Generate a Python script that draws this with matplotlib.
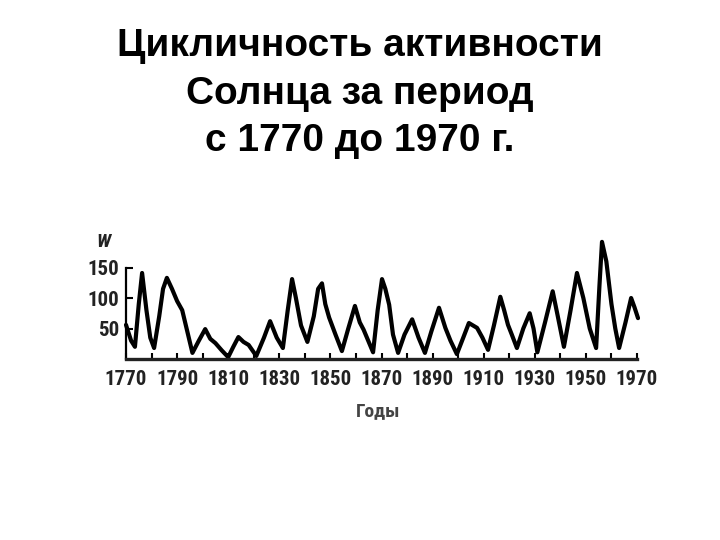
import matplotlib
matplotlib.use("Agg")
import matplotlib.pyplot as plt
from matplotlib import font_manager
from matplotlib.ticker import FixedLocator

title_lines = ["Цикличность активности", "Солнца за период", "с 1770 до 1970 г."]

years = [1770, 1772, 1773.5, 1775, 1776.3, 1778, 1779.5, 1781, 1783, 1784.5, 1786, 1788, 1790,
         1792, 1794, 1796, 1798.5, 1801, 1803, 1805, 1807.5, 1810, 1812, 1814, 1816, 1818,
         1821, 1824, 1826.4, 1829, 1831.4, 1833.3, 1835, 1836.5, 1838.5, 1841, 1843.5, 1845.2,
         1846.7, 1848, 1849.5, 1852, 1854.5, 1857, 1859.6, 1861.5, 1863, 1866.7, 1868.5, 1870.2,
         1871.5, 1873, 1874.5, 1876.5, 1879, 1882, 1884.5, 1887, 1889.5, 1892.5, 1895, 1897,
         1899.5, 1902, 1904.2, 1907.4, 1909.5, 1911.7, 1914, 1916.5, 1918, 1919.5, 1921, 1923,
         1925.5, 1928, 1929.5, 1931, 1934, 1937, 1939, 1941.4, 1944, 1946.5, 1949, 1951.5, 1954,
         1955.3, 1956.3, 1958, 1960, 1961.5, 1963, 1965.5, 1967.7, 1969, 1970.4]
wolf = [56, 30, 20, 90, 141, 80, 35, 18, 70, 115, 133, 115, 95,
        80, 45, 10, 30, 49, 33, 26, 14, 3, 20, 36, 28, 23,
        5, 35, 62, 35, 18, 80, 131, 100, 55, 28, 70, 115,
        124, 90, 68, 40, 13, 50, 87, 60, 48, 11, 80, 131,
        115, 89, 40, 10, 40, 65, 35, 10, 45, 84, 51, 30,
        8, 35, 59, 51, 35, 15, 55, 102, 80, 56, 40, 18,
        50, 75, 50, 11, 60, 111, 70, 20, 80, 141, 100, 50, 18,
        120, 192, 160, 90, 50, 18, 60, 100, 85, 67]

x_major = list(range(1770, 1971, 20))
x_minor = list(range(1770, 1971, 10))
y_ticks = [50, 100, 150]

names = {f.name for f in font_manager.fontManager.ttflist}
cond = [n for n in ["DejaVu Sans Condensed", "Liberation Sans Narrow", "Roboto Condensed"] if n in names]
tick_family = cond + ["Liberation Sans", "DejaVu Sans"]

fig = plt.figure(figsize=(7.2, 5.4), dpi=100)
fig.patch.set_facecolor("white")

title_y = [46, 94, 141]
for line, ypx in zip(title_lines, title_y):
    fig.text(0.5, 1 - ypx / 540, line, ha="center", va="center",
             fontsize=28, fontweight="bold", family=["Liberation Sans", "DejaVu Sans"],
             color="black")

left = 126 / 720
right = 637 / 720
base = 1 - 359 / 540
ppu = 0.61 / 540
ax = fig.add_axes([left, base, right - left, 200 * ppu])
ax.set_xlim(1770, 1970)
ax.set_ylim(0, 200)

ax.plot(years, wolf, color="black", lw=3.0, solid_joinstyle="round",
        solid_capstyle="round", clip_on=False)

for s in ["top", "right"]:
    ax.spines[s].set_visible(False)
ax.spines["left"].set_bounds(0, 150)
ax.spines["left"].set_linewidth(1.6)
ax.spines["bottom"].set_linewidth(2.4)
ax.spines["bottom"].set_color("#222222")

fs = 13 if not cond else 15
ax.xaxis.set_major_locator(FixedLocator(x_major))
ax.xaxis.set_minor_locator(FixedLocator(x_minor))
ax.set_xticks(x_major)
ax.set_xticklabels([str(v) for v in x_major], family=tick_family, fontsize=fs,
                   fontweight="bold", color="#222222")
ax.tick_params(axis="x", which="both", direction="in", length=4, width=1.5, pad=8)
ax.set_yticks(y_ticks)
ax.set_yticklabels([str(v) for v in y_ticks], family=tick_family, fontsize=fs,
                   fontweight="bold", color="#222222")
ax.tick_params(axis="y", direction="in", length=5, width=1.5, pad=5)

fig.text(103 / 720, 1 - 242 / 540, "W", ha="center", va="center", fontsize=14,
         fontstyle="italic", fontweight="bold", family=tick_family, color="#222222")
fig.text(378 / 720, 1 - 411 / 540, "Годы", ha="center", va="center", fontsize=14,
         fontweight="bold", family=tick_family, color="#444444")

fig.savefig("out.png", dpi=100, facecolor="white")
